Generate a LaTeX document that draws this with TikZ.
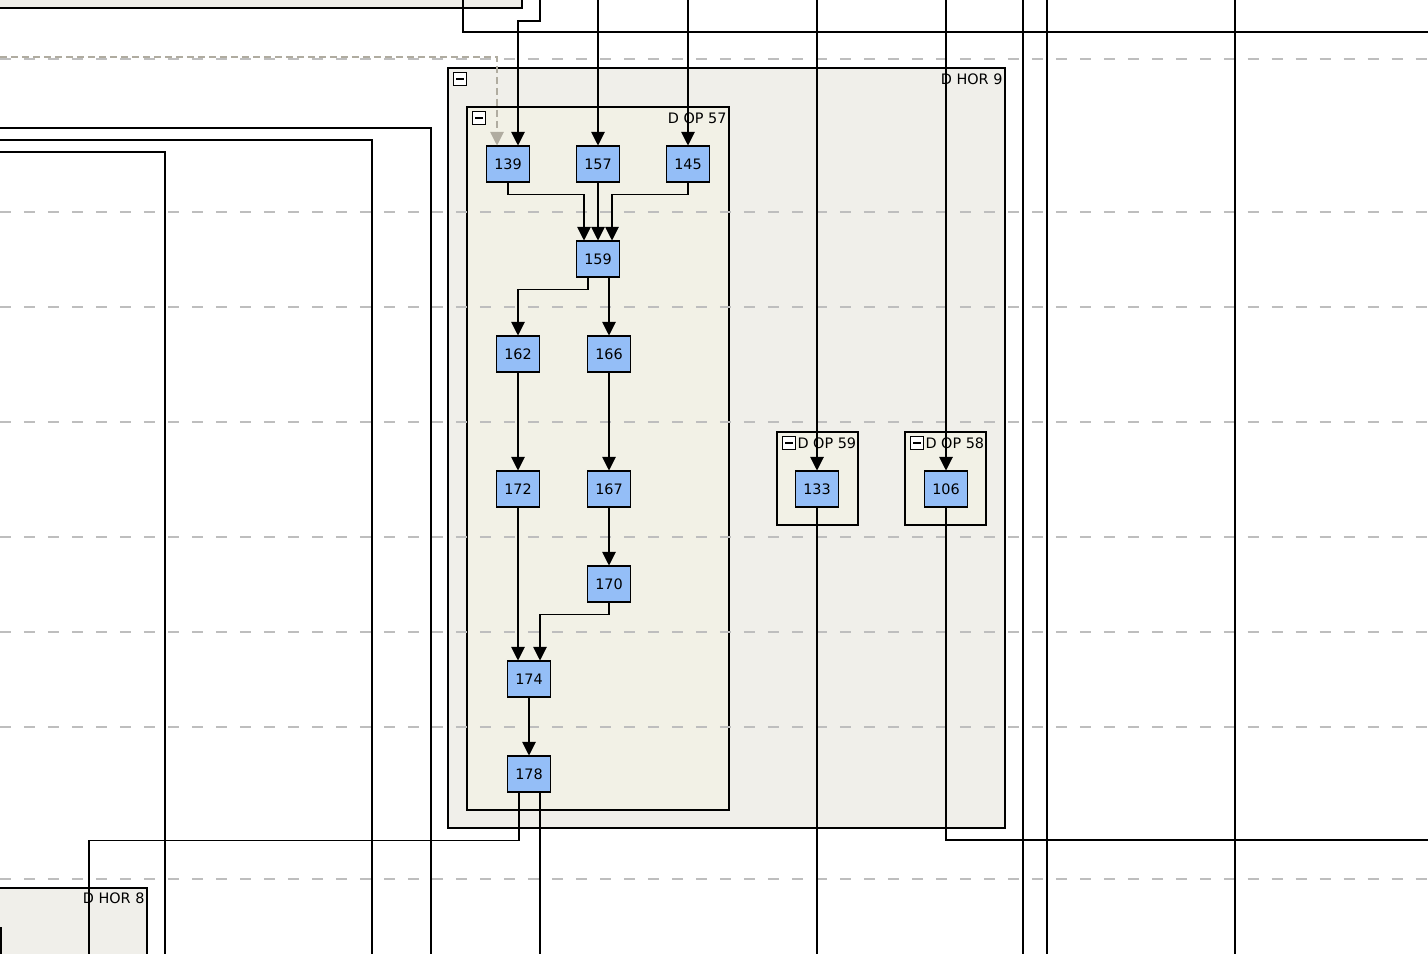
\documentclass[tikz,border=0pt]{standalone}
\usepackage{fontspec}
\setmainfont{DejaVu Sans}
\usetikzlibrary{arrows.meta,calc}

\definecolor{opblue}{RGB}{148,190,247}
\definecolor{horfill}{RGB}{240,239,234}
\definecolor{opfill}{RGB}{242,241,230}
\definecolor{lanegray}{RGB}{190,190,190}
\definecolor{ghost}{RGB}{176,172,160}

\tikzset{
  opnode/.style={draw, fill=opblue, minimum width=0.86cm, minimum height=0.72cm, inner sep=0pt, font=\fontsize{8.2}{10}\selectfont},
  tag/.style={inner sep=0pt, font=\fontsize{8.2}{10}\selectfont},
  minusbox/.style={draw, fill=white, minimum size=0.26cm, inner sep=0pt,
    path picture={\draw ([xshift=0.05cm]path picture bounding box.west) -- ([xshift=-0.05cm]path picture bounding box.east);}},
  flow/.style={-{Triangle[width=0.27cm,length=0.27cm]}},
  ghostflow/.style={ghost, dash pattern=on 0.14cm off 0.08cm, -{Triangle[width=0.27cm,length=0.27cm]}},
  lane/.style={lanegray, dash pattern=on 0.22cm off 0.26cm}
}

\begin{document}
\begin{tikzpicture}[x=0.02cm, y=-0.02cm, line width=0.6pt]
\useasboundingbox (0,0) rectangle (1428,954);
\clip (0,0) rectangle (1428,954);

% border points
\coordinate (top) at (0,0);
\coordinate (bottom) at (0,954);

% clusters
\draw[fill=horfill] (-10,-10) rectangle (522,8);
\draw[fill=horfill] (448,68) rectangle (1005,828);
\draw[fill=opfill] (467,107) rectangle (729,810);
\draw[fill=opfill] (777,432) rectangle (858,525);
\draw[fill=opfill] (905,432) rectangle (986,525);
\draw[fill=horfill] (-10,888) rectangle (147,970);

% lanes
\foreach \y in {59,212,307,422,537,632,727,879}
  \draw[lane] (0,\y) -- (1428,\y);

% cluster titles
\node[minusbox] (m9) at (460,79) {};
\node[tag, anchor=east] (hor9) at (1003,79) {D HOR 9};
\node[minusbox] (m57) at (479,118) {};
\node[tag, anchor=east] (op57) at (727,118) {D OP 57};
\node[minusbox] (m59) at (789,443) {};
\node[tag, anchor=west] (op59) at (797,443) {D OP 59};
\node[minusbox] (m58) at (917,443) {};
\node[tag, anchor=west] (op58) at (925,443) {D OP 58};
\node[tag, anchor=east] (hor8) at (145,898) {D HOR 8};

% operations
\node[opnode] (n139) at (508,164) {139};
\node[opnode] (n157) at (598,164) {157};
\node[opnode] (n145) at (688,164) {145};
\node[opnode] (n159) at (598,259) {159};
\node[opnode] (n162) at (518,354) {162};
\node[opnode] (n166) at (609,354) {166};
\node[opnode] (n172) at (518,489) {172};
\node[opnode] (n167) at (609,489) {167};
\node[opnode] (n170) at (609,584) {170};
\node[opnode] (n174) at (529,679) {174};
\node[opnode] (n178) at (529,774) {178};
\node[opnode] (n133) at (817,489) {133};
\node[opnode] (n106) at (946,489) {106};

% flows inside D OP 57
\draw[flow] (n139.south) -- ++(0,12) -| ($(n159.north)+(-14,0)$);
\draw[flow] (n157) -- (n159);
\draw[flow] (n145.south) -- ++(0,12) -| ($(n159.north)+(14,0)$);
\draw[flow] ($(n159.south)+(-10,0)$) -- ++(0,12) -| (n162.north);
\draw[flow] (n166.north |- n159.south) -- (n166.north);
\draw[flow] (n162) -- (n172);
\draw[flow] (n166) -- (n167);
\draw[flow] (n167) -- (n170);
\draw[flow] (n172.south) -- (n172.south |- n174.north);
\draw[flow] (n170.south) -- ++(0,12) -| ($(n174.north)+(11,0)$);
\draw[flow] (n174) -- (n178);

% incoming wires
\coordinate (in139) at (540,0);
\draw[flow] (in139) -- ++(0,21) -| ($(n139.north)+(10,0)$);
\coordinate (ghostin) at (0,57);
\draw[ghostflow] (ghostin) -| ($(n139.north)+(-11,0)$);
\draw[flow] (n157.north |- top) -- (n157.north);
\draw[flow] (n145.north |- top) -- (n145.north);
\draw[flow] (n133.north |- top) -- (n133.north);
\draw[flow] (n106.north |- top) -- (n106.north);

% outgoing wires
\draw (n133.south) -- (n133.south |- bottom);
\coordinate (out106) at (1428,840);
\draw (n106.south) |- (out106);
\coordinate (out178a) at (89,954);
\draw ($(n178.south)+(-10,0)$) -- ++(0,48) -| (out178a);
\coordinate (out178b) at (540,954);
\draw ($(n178.south)+(11,0)$) -- (out178b);

% passing wires
\coordinate (wa) at (463,0);
\coordinate (wb) at (1428,32);
\draw (wa) |- (wb);
\coordinate (wl1) at (0,128);
\coordinate (wl1e) at (431,954);
\draw (wl1) -| (wl1e);
\coordinate (wl2) at (0,140);
\coordinate (wl2e) at (372,954);
\draw (wl2) -| (wl2e);
\coordinate (wl3) at (0,152);
\coordinate (wl3e) at (165,954);
\draw (wl3) -| (wl3e);
\coordinate (wl4) at (1,927);
\draw (wl4) -- (wl4 |- bottom);
\coordinate (v1) at (1023,0);
\coordinate (v2) at (1047,0);
\coordinate (v3) at (1235,0);
\draw (v1) -- (v1 |- bottom);
\draw (v2) -- (v2 |- bottom);
\draw (v3) -- (v3 |- bottom);
\end{tikzpicture}
\end{document}
